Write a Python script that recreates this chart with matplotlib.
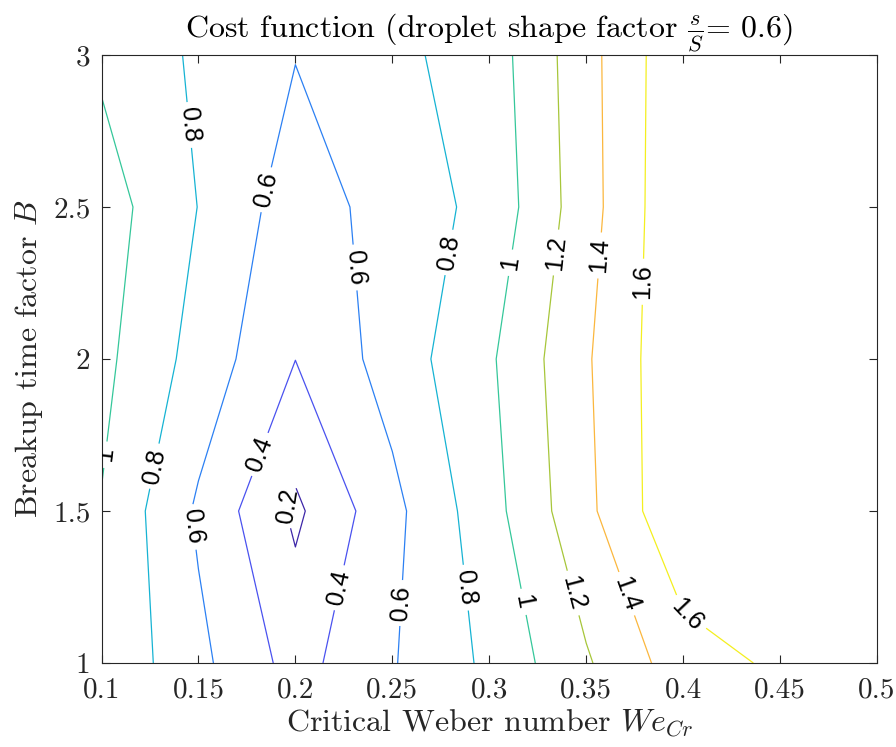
"""
Contorno de la funcion de coste para el factor de forma s/S = 0.6
"""
import numpy as np
import matplotlib
matplotlib.use("Agg")
import matplotlib.pyplot as plt

# Datos: rejilla We_Cr x B
we_cr = [0.1, 0.15, 0.2, 0.25, 0.3, 0.35, 0.4, 0.45, 0.5]
b_factor = [1.0, 1.5, 2.0, 2.5, 3.0]

cost_b10 = [0.972, 0.650, 0.326, 0.586, 0.840, 1.177, 1.508, 1.635, 1.720]
cost_b15 = [0.990, 0.569, 0.161, 0.544, 0.925, 1.352, 1.778, 1.790, 1.795]
cost_b20 = [1.052, 0.725, 0.402, 0.687, 0.971, 1.377, 1.773, 1.790, 1.795]
cost_b25 = [1.098, 0.796, 0.497, 0.680, 0.861, 1.318, 1.783, 1.790, 1.795]
cost_b30 = [0.963, 0.768, 0.607, 0.751, 0.896, 1.330, 1.766, 1.780, 1.790]

levels = [0.2, 0.4, 0.6, 0.8, 1.0, 1.2, 1.4, 1.6]
xticks = [0.1, 0.15, 0.2, 0.25, 0.3, 0.35, 0.4, 0.45, 0.5]
yticks = [1, 1.5, 2, 2.5, 3]

# colores tipo parula para cada nivel
level_colors = ['#3d26a8', '#4a52ef', '#2c80f3', '#16b3d3', '#35c79a',
                '#a7c63a', '#fbb73e', '#f4ef1f']

# posiciones aproximadas de las etiquetas
label_pos = [(0.1457, 2.77), (0.1854, 2.556), (0.229, 2.30), (0.2797, 2.35),
             (0.3116, 2.316), (0.3348, 2.35), (0.358, 2.34), (0.380, 2.254),
             (0.1035, 1.684), (0.1285, 1.646), (0.1826, 1.684), (0.197, 1.514),
             (0.1474, 1.448), (0.223, 1.247), (0.2557, 1.197), (0.2866, 1.247),
             (0.3167, 1.20), (0.3425, 1.229), (0.3691, 1.224), (0.4027, 1.163)]

plt.rcParams['font.family'] = 'serif'
plt.rcParams['font.serif'] = ['cmr10']
plt.rcParams['mathtext.fontset'] = 'cm'
plt.rcParams['axes.formatter.use_mathtext'] = True

X, Y = np.meshgrid(we_cr, b_factor)
Z = np.array([cost_b10, cost_b15, cost_b20, cost_b25, cost_b30])

fig = plt.figure(figsize=(8.96, 7.47), dpi=100)
ax = fig.add_axes([0.1133, 0.1124, 0.8655, 0.8140])

cs = ax.contour(X, Y, Z, levels=levels, colors=level_colors, linewidths=0.9)
labels = ax.clabel(cs, levels=levels, manual=label_pos, inline=True,
                   inline_spacing=7, fmt=lambda v: f'{v:g}', fontsize=18,
                   colors='black')
for t in labels:
    t.set_family('Liberation Sans')

ax.set_xlim(0.1, 0.5)
ax.set_ylim(1, 3)
ax.set_xticks(xticks)
ax.set_xticklabels([f'{v:g}' for v in xticks])
ax.set_yticks(yticks)
ax.set_yticklabels([f'{v:g}' for v in yticks])
ax.tick_params(direction='in', top=True, right=True, length=6, width=0.8,
               labelsize=21, colors='#262626', pad=8)
ax.tick_params(axis='x', pad=10)
for sp in ax.spines.values():
    sp.set_color('#262626')
    sp.set_linewidth(0.8)

ax.set_xlabel(r'Critical Weber number $We_{Cr}$', fontsize=23,
              color='#262626', labelpad=3)
ax.set_ylabel(r'Breakup time factor $B$', fontsize=23, color='#262626',
              labelpad=6)
ax.set_title(r'Cost function (droplet shape factor $\frac{s}{S}$= 0.6)',
             fontsize=23, pad=13)

plt.savefig('out.png', dpi=100)
